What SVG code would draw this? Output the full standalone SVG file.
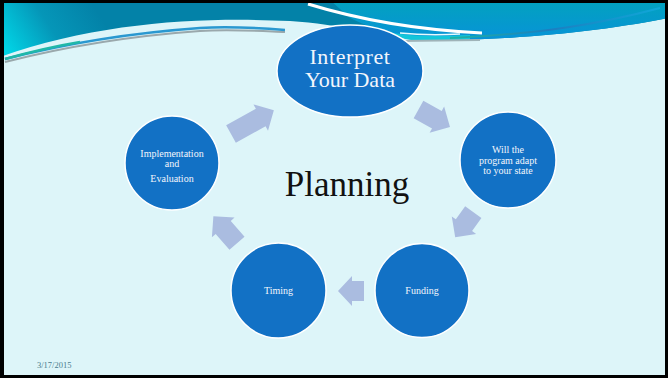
<svg xmlns="http://www.w3.org/2000/svg" width="668" height="378" viewBox="0 0 668 378">
<style>
.node{fill:#1271C5;stroke:#ffffff;stroke-width:1.5}
.lbl{font-family:"Liberation Serif","Times New Roman",serif;fill:#F2F6FC;text-anchor:middle}
.sm{font-size:10px}
.arr{fill:#AABCE0}
</style>
<defs>
<linearGradient id="gl" gradientUnits="userSpaceOnUse" x1="0" y1="58" x2="90" y2="0">
<stop offset="0" stop-color="#00E0EE"/>
<stop offset="0.55" stop-color="#0596B8"/>
<stop offset="1" stop-color="#0382A8"/>
</linearGradient>
<linearGradient id="gr" gradientUnits="userSpaceOnUse" x1="0" y1="0" x2="0" y2="40">
<stop offset="0" stop-color="#02A2BE"/>
<stop offset="1" stop-color="#0893D8"/>
</linearGradient>
<linearGradient id="gs" gradientUnits="userSpaceOnUse" x1="440" y1="0" x2="660" y2="0">
<stop offset="0" stop-color="#1FB8A0"/>
<stop offset="0.5" stop-color="#1C7EC0"/>
<stop offset="1" stop-color="#0FA8D8"/>
</linearGradient>
</defs>
<rect x="0" y="0" width="668" height="378" fill="#DDF5F9"/>
<g id="banner">
<path d="M0,0 H668 V18 C620,28 540,38 460,40 L420,40 C380,36 340,24 290,21 C200,17 100,22 0,57 Z" fill="url(#gl)"/>
<path d="M330,0 H668 V18 C620,28 540,38 460,40 L420,40 C400,38 380,32 350,18 Z" fill="url(#gr)"/>
<path d="M380,31 C420,38 440,36 470,35 L470,41 L420,41 C405,40 395,36 380,31 Z" fill="#12C6DA"/>
<path d="M308,4 C360,20 420,30 482,33" fill="none" stroke="#ffffff" stroke-width="3"/>
<path d="M400,33 C420,35 440,35 460,34" fill="none" stroke="#E6FAFC" stroke-width="1.5"/>
<path d="M400,41 L480,40" fill="none" stroke="#9FB3B8" stroke-width="2"/>
<path d="M450,38 C540,34 600,24 660,8" fill="none" stroke="url(#gs)" stroke-width="2"/>
<path d="M5,62 C60,48 130,36 200,31 C230,29 260,31 285,32" fill="none" stroke="#9AA8AC" stroke-width="2"/>
<path d="M5,59 C60,45 130,33 200,28 C230,26 260,28 285,30" fill="none" stroke="#2A98D0" stroke-width="2.5"/>
<path d="M5,59 C30,52 50,47 80,42" fill="none" stroke="#20B8A8" stroke-width="2.5"/>
</g>
<g id="connectors">
<path class="arr" transform="translate(231,134) rotate(-29)" d="M0,-10 H34 V-15 L49,0 L34,15 V10 H0 Z"/>
<path class="arr" transform="translate(418.5,109.5) rotate(29)" d="M0,-10 H21 V-15 L36,0 L21,15 V10 H0 Z"/>
<path class="arr" transform="translate(473.3,212.2) rotate(125.7)" d="M0,-10 H16 V-15 L31,0 L16,15 V10 H0 Z"/>
<path class="arr" transform="translate(364,291) rotate(180)" d="M0,-10 H12 V-15 L26,0 L12,15 V10 H0 Z"/>
<path class="arr" transform="translate(237,243.3) rotate(-131)" d="M0,-10 H21 V-15 L36,0 L21,15 V10 H0 Z"/>
</g>
<g id="interpret">
<ellipse class="node" cx="350" cy="71" rx="73" ry="46"/>
<text class="lbl" x="350" y="64" font-size="22" letter-spacing="0.6">Interpret</text>
<text class="lbl" x="350" y="87" font-size="22">Your Data</text>
</g>
<g id="adapt">
<circle class="node" cx="508" cy="160" r="48"/>
<text class="lbl sm" x="508" y="153">Will the</text>
<text class="lbl sm" x="508" y="163.5">program adapt</text>
<text class="lbl sm" x="508" y="174">to your state</text>
</g>
<g id="funding">
<circle class="node" cx="422" cy="290.5" r="47"/>
<text class="lbl sm" x="422" y="294">Funding</text>
</g>
<g id="timing">
<circle class="node" cx="278.5" cy="290.5" r="47.5"/>
<text class="lbl sm" x="278.5" y="294">Timing</text>
</g>
<g id="implementation">
<circle class="node" cx="172" cy="163" r="47"/>
<text class="lbl sm" x="172" y="157">Implementation</text>
<text class="lbl sm" x="172" y="167">and</text>
<text class="lbl sm" x="172" y="182">Evaluation</text>
</g>
<text x="347" y="196" font-family="Liberation Serif, Times New Roman, serif" font-size="35" fill="#111111" text-anchor="middle">Planning</text>
<text x="37" y="368" font-family="Liberation Serif, Times New Roman, serif" font-size="8.5" fill="#4A7C8E">3/17/2015</text>
<path d="M0,0 H668 V378 H0 Z M4,3 V375 H665 V3 Z" fill="#000000" fill-rule="evenodd"/>
</svg>
